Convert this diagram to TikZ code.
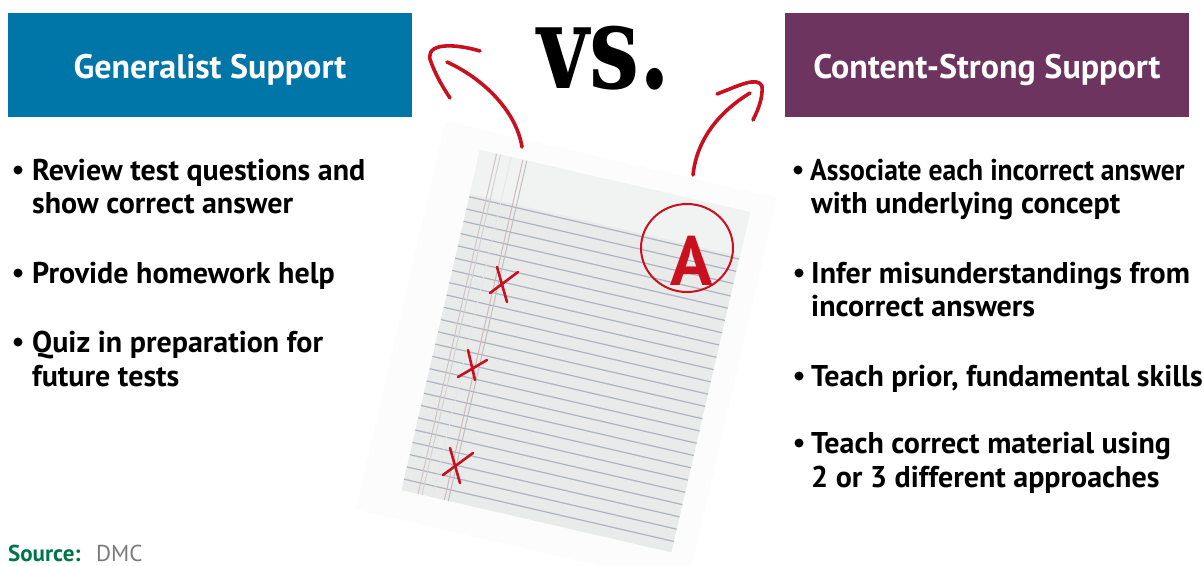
\documentclass[tikz,border=0pt]{standalone}
\usepackage{fontspec}
\setmainfont{PT Sans}
\newfontfamily\vsfont{DejaVu Serif}
\definecolor{hdrblue}{HTML}{0075A8}
\definecolor{hdrpurple}{HTML}{6C345E}
\definecolor{inkred}{HTML}{C8101E}
\definecolor{paperfill}{HTML}{E9EBEB}
\definecolor{rulecol}{HTML}{AEB3C0}
\definecolor{srcgreen}{HTML}{00744A}
\definecolor{srcgray}{HTML}{7A7A7A}
\tikzset{
  hdrbox/.style={minimum width=404pt, minimum height=104pt, inner sep=0pt},
  hdrtext/.style={anchor=base, inner sep=0pt, text=white,
    font=\fontsize{34}{38}\selectfont\bfseries},
  item/.style={anchor=base west, inner sep=0pt, font=\fontsize{30}{33}\selectfont\bfseries},
  dot/.style={circle, fill=black, inner sep=0pt, minimum size=9pt},
  inkline/.style={draw=inkred, line width=3.6pt, line cap=round, line join=round},
  rulel/.style={draw=rulecol, line width=1.2pt},
}
\begin{document}
\begin{tikzpicture}[x=1pt,y=-1pt]
\useasboundingbox (0,0) rectangle (1204,565);
\fill[white] (0,0) rectangle (1204,565);

% headers
\node[hdrbox, fill=hdrblue] (gen) at (210,65) {};
\node[hdrtext] (gent) at (210,78) {Generalist Support};
\node[hdrbox, fill=hdrpurple] (con) at (987,65) {};
\node[hdrtext] (cont) at (987,78) {Content-Strong Support};

% vs.
\node[anchor=base, inner sep=0pt] (vs) at (604,88)
  {\scalebox{0.76}[1]{\vsfont\bfseries\fontsize{117}{117}\selectfont vs.}};

% paper
\begin{scope}[shift={(480,150)}, rotate=-13]
  \fill[gray!2.5] (-40,-20) rectangle (300,378);
  \fill[paperfill] (0,0) rectangle (277,349);
  \fill[white!35!paperfill] (0,0) rectangle (277,45);
  \foreach \i in {0,...,23}{
    \draw[rulel] (0,{48+\i*12.6}) -- (277,{48+\i*12.6});
  }
  \draw[red!18!gray!40, line width=1pt] (17,0) -- (17,349);
  \draw[gray!35, line width=1pt] (21,0) -- (21,349);
  \draw[gray!20, line width=0.8pt] (32,0) -- (32,349);
  \draw[red!25!gray!45, line width=1pt] (44,0) -- (44,349);
  \draw[gray!50, line width=1pt] (48,0) -- (48,349);
\end{scope}

% grade circle and letter
\draw[inkred, line width=2pt] (687,248) ellipse [x radius=46, y radius=44];
\node[inner sep=0pt, text=inkred, font=\fontsize{70}{70}\selectfont\bfseries] (grade) at (692,261) {A};

% x marks
\draw[inkline, line width=2.6pt] (497,267) -- (507,302) (490,293) -- (518,272);
\draw[inkline, line width=2.6pt] (468,350) -- (475,380) (458,377) -- (487,360);
\draw[inkline, line width=2.6pt] (450,448) -- (460,483) (443,475) -- (473,453);

% arrows
\coordinate (la0) at (522,147);
\coordinate (la1) at (447,62);
\draw[inkline] (la0) .. controls (516,110) and (482,78) .. (la1);
\draw[inkline] (480,51) .. controls (445,41) and (424,46) .. (431,62) .. controls (436,76) and (444,89) .. (450,98);
\coordinate (ra0) at (693,175);
\coordinate (ra1) at (750,93);
\draw[inkline] (ra0) .. controls (697,137) and (722,110) .. (ra1);
\draw[inkline] (717,94) .. controls (738,86) and (757,76) .. (762,86) .. controls (763,98) and (758,110) .. (753,120);

% left bullets
\node[dot] (lb1) at (18,170) {};
\node[item] (l1a) at (32,180) {Review test questions and};
\node[item] (l1b) at (32,213) {show correct answer};
\node[dot] (lb2) at (18,273) {};
\node[item] (l2a) at (32,283) {Provide homework help};
\node[dot] (lb3) at (18,342) {};
\node[item] (l3a) at (32,352) {Quiz in preparation for};
\node[item] (l3b) at (32,386) {future tests};

% right bullets
\node[dot] (rb1) at (798,170) {};
\node[item] (r1a) at (810,180) {\scalebox{0.92}[1]{Associate each incorrect answer}};
\node[item] (r1b) at (811,213) {with underlying concept};
\node[dot] (rb2) at (799,273) {};
\node[item] (r2a) at (811,283) {Infer misunderstandings from};
\node[item] (r2b) at (811,316) {incorrect answers};
\node[dot] (rb3) at (799,376) {};
\node[item] (r3a) at (811,386) {Teach prior, fundamental skills};
\node[dot] (rb4) at (799,443) {};
\node[item] (r4a) at (811,453) {Teach correct material using};
\node[item] (r4b) at (811,487) {2 or 3 different approaches};

% source
\node[anchor=base west, inner sep=0pt, text=srcgreen, font=\fontsize{23}{23}\selectfont\bfseries] (src) at (8,561) {Source:};
\node[anchor=base west, inner sep=0pt, text=srcgray, font=\fontsize{23}{23}\selectfont] (dmc) at (96,561) {DMC};
\end{tikzpicture}
\end{document}
